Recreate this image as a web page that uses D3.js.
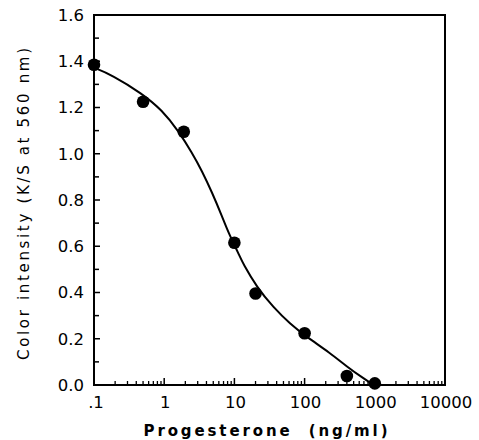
<!DOCTYPE html>
<html>
<head>
<meta charset="utf-8">
<script src="https://cdn.jsdelivr.net/npm/d3@7"></script>
<style>
  body { margin: 0; background: #fff; }
  svg { display: block; }
</style>
</head>
<body>
<svg id="chart" width="479" height="440"></svg>
<script>
// Measured points
const concentration = [0.1, 0.5, 1.9, 10, 20, 100, 400, 1000];
const intensity = [1.385, 1.225, 1.095, 0.615, 0.396, 0.224, 0.039, 0.007];

// Fitted curve
const curveX = [0.1, 0.18, 0.48, 0.93, 1.61, 2.49, 3.45, 4.8, 6.66, 8.29, 11.5, 13.4, 20.8, 35.8, 61.9, 107, 230, 398, 686, 960];
const curveY = [1.372, 1.341, 1.261, 1.189, 1.097, 1.004, 0.926, 0.833, 0.730, 0.656, 0.567, 0.522, 0.424, 0.336, 0.265, 0.208, 0.139, 0.080, 0.029, 0.0];

const xTickValues = [0.1, 1, 10, 100, 1000, 10000];
const xTickLabels = [".1", "1", "10", "100", "1000", "10000"];
const yTickValues = [0, 0.2, 0.4, 0.6, 0.8, 1.0, 1.2, 1.4, 1.6];
const yTickLabels = ["0.0", "0.2", "0.4", "0.6", "0.8", "1.0", "1.2", "1.4", "1.6"];

const xTitle = "Progesterone  (ng/ml)";
const yTitle = "Color intensity (K/S at 560 nm)";

const svg = d3.select("#chart");
const pL = 94, pR = 445, pT = 15, pB = 385;

const x = d3.scaleLog().domain([0.1, 10000]).range([pL, pR]);
const y = d3.scaleLinear().domain([0, 1.6]).range([pB, pT]);

const font = "'DejaVu Sans', Verdana, sans-serif";

// minor ticks
const xMinor = [];
for (let e = -1; e < 4; e++) {
  for (let m = 2; m <= 9; m++) xMinor.push(m * Math.pow(10, e));
}
svg.append("g").selectAll("line").data(xMinor).join("line")
  .attr("x1", d => x(d)).attr("x2", d => x(d))
  .attr("y1", pB).attr("y2", pB - 4)
  .attr("stroke", "#000").attr("stroke-width", 1.3);
svg.append("g").selectAll("line").data(xTickValues).join("line")
  .attr("x1", d => x(d)).attr("x2", d => x(d))
  .attr("y1", pB).attr("y2", pB - 7)
  .attr("stroke", "#000").attr("stroke-width", 1.5);

const yMinor = d3.range(0.1, 1.6, 0.2);
svg.append("g").selectAll("line").data(yMinor).join("line")
  .attr("x1", pL).attr("x2", pL + 5)
  .attr("y1", d => y(d)).attr("y2", d => y(d))
  .attr("stroke", "#000").attr("stroke-width", 1.5);
svg.append("g").selectAll("line").data(yTickValues).join("line")
  .attr("x1", pL).attr("x2", pL + 6)
  .attr("y1", d => y(d)).attr("y2", d => y(d))
  .attr("stroke", "#000").attr("stroke-width", 1.5);

// frame
svg.append("rect")
  .attr("x", pL).attr("y", pT)
  .attr("width", pR - pL).attr("height", pB - pT)
  .attr("fill", "none").attr("stroke", "#000").attr("stroke-width", 2);

// tick labels
svg.append("g").selectAll("text").data(xTickValues).join("text")
  .attr("x", (d, i) => x(d) + (i === 0 ? 2 : 1))
  .attr("y", 408)
  .attr("text-anchor", "middle")
  .attr("font-family", font).attr("font-size", 16.5)
  .text((d, i) => xTickLabels[i]);

svg.append("g").selectAll("text").data(yTickValues).join("text")
  .attr("x", 84)
  .attr("y", d => y(d))
  .attr("dy", "0.36em")
  .attr("text-anchor", "end")
  .attr("font-family", font).attr("font-size", 16.5)
  .text((d, i) => yTickLabels[i]);

// titles
svg.append("text")
  .attr("x", (pL + pR) / 2 - 4).attr("y", 436)
  .attr("text-anchor", "middle")
  .attr("font-family", font).attr("font-size", 15).attr("font-weight", "bold")
  .attr("textLength", 244).attr("lengthAdjust", "spacing")
  .style("white-space", "pre")
  .text(xTitle);

svg.append("text")
  .attr("transform", "translate(29,204) rotate(-90)")
  .attr("text-anchor", "middle")
  .attr("font-family", font).attr("font-size", 15)
  .attr("textLength", 312).attr("lengthAdjust", "spacing")
  .text(yTitle);

// curve
const line = d3.line()
  .x(d => x(d[0])).y(d => y(d[1]))
  .curve(d3.curveBasis);
svg.append("path")
  .datum(curveX.map((v, i) => [v, curveY[i]]))
  .attr("d", line)
  .attr("fill", "none").attr("stroke", "#000").attr("stroke-width", 2);

// points
svg.append("g").selectAll("circle").data(concentration).join("circle")
  .attr("cx", d => x(d))
  .attr("cy", (d, i) => y(intensity[i]))
  .attr("r", 6.3)
  .attr("fill", "#000");
</script>
</body>
</html>
